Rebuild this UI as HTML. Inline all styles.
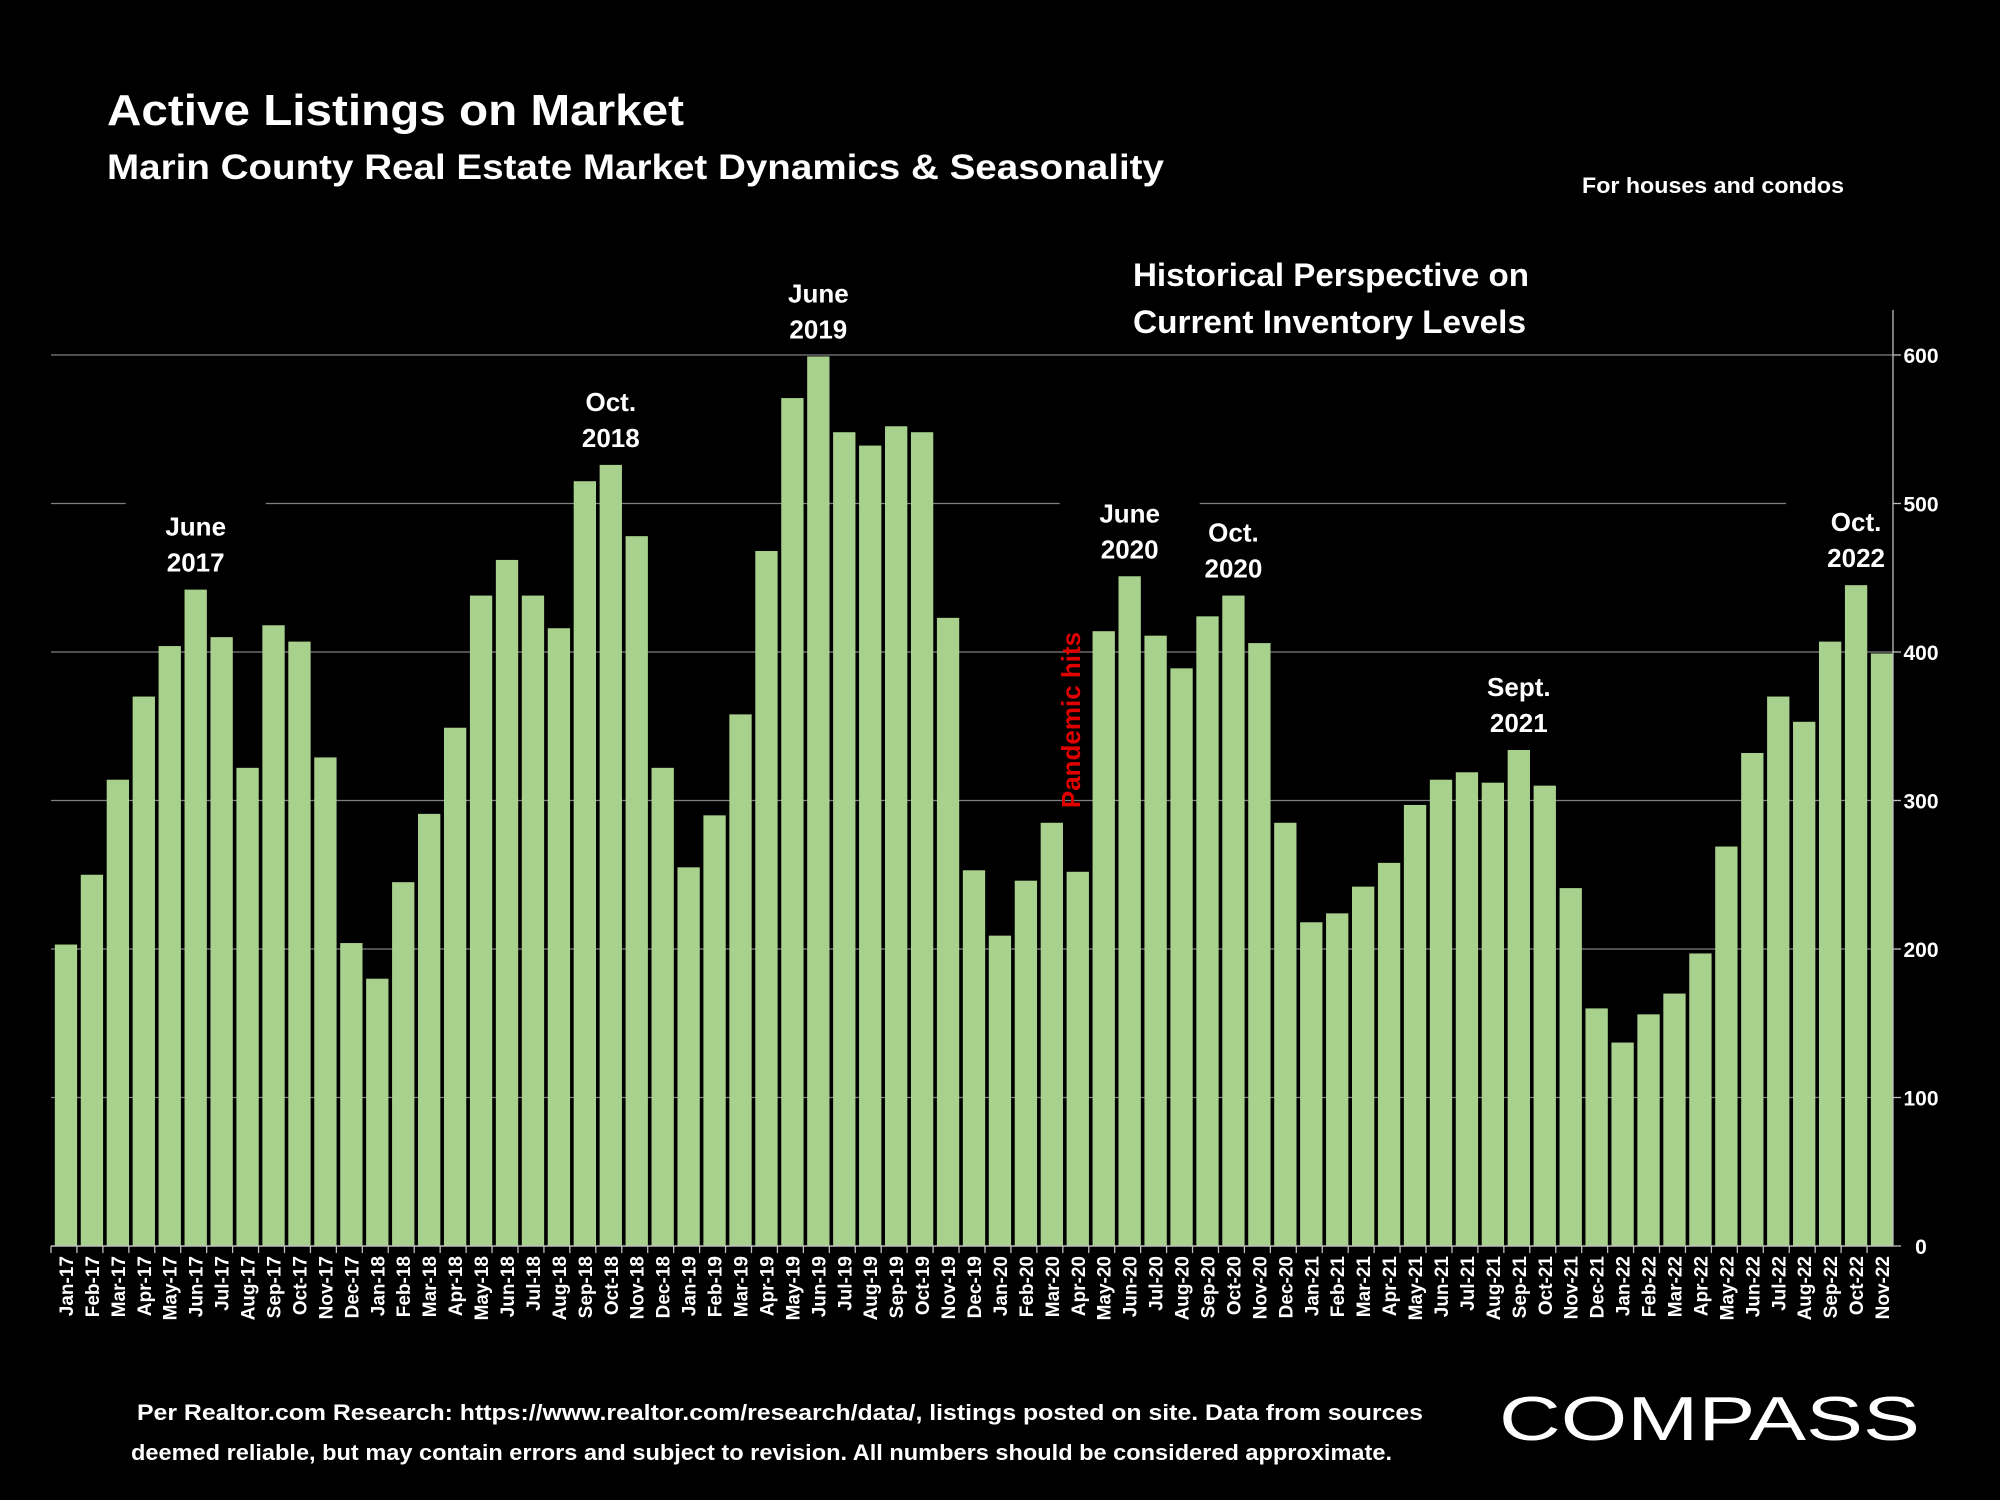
<!DOCTYPE html>
<html><head><meta charset="utf-8"><style>
html,body{margin:0;padding:0;background:#000;}
svg{display:block;font-family:"Liberation Sans",sans-serif;font-weight:bold;}
</style></head><body>
<svg id="chart" width="2000" height="1500" viewBox="0 0 2000 1500" xmlns="http://www.w3.org/2000/svg">
<rect width="2000" height="1500" fill="#000"/>
<text x="107" y="125" fill="#fff" font-size="44" textLength="577" lengthAdjust="spacingAndGlyphs">Active Listings on Market</text>
<text x="107" y="179" fill="#fff" font-size="35" textLength="1057" lengthAdjust="spacingAndGlyphs">Marin County Real Estate Market Dynamics &amp; Seasonality</text>
<text x="1582" y="193" fill="#fff" font-size="22" textLength="262" lengthAdjust="spacingAndGlyphs">For houses and condos</text>
<g id="grid"></g>
<g id="bars"></g>
<g id="annots"></g>
<g id="axes"></g>
<text x="1133" y="286" fill="#fff" font-size="32" textLength="396" lengthAdjust="spacingAndGlyphs">Historical Perspective on</text>
<text x="1133" y="333" fill="#fff" font-size="32" textLength="393" lengthAdjust="spacingAndGlyphs">Current Inventory Levels</text>
<text x="1071" y="720" fill="#e00000" font-size="26" text-anchor="middle" transform="rotate(-90 1071 720)" dy="9">Pandemic hits</text>
<text x="137" y="1420" fill="#fff" font-size="22" textLength="1286" lengthAdjust="spacingAndGlyphs">Per Realtor.com Research:  https://www.realtor.com/research/data/, listings posted on site. Data from sources</text>
<text x="131" y="1460" fill="#fff" font-size="22" textLength="1261" lengthAdjust="spacingAndGlyphs">deemed reliable, but may contain errors and subject to revision. All numbers should be considered approximate.</text>
<text x="1499" y="1440" fill="#fff" font-size="62" font-weight="normal" textLength="421" lengthAdjust="spacingAndGlyphs">COMPASS</text>
</svg>
<script>
const categories = ["Jan-17","Feb-17","Mar-17","Apr-17","May-17","Jun-17","Jul-17","Aug-17","Sep-17","Oct-17","Nov-17","Dec-17","Jan-18","Feb-18","Mar-18","Apr-18","May-18","Jun-18","Jul-18","Aug-18","Sep-18","Oct-18","Nov-18","Dec-18","Jan-19","Feb-19","Mar-19","Apr-19","May-19","Jun-19","Jul-19","Aug-19","Sep-19","Oct-19","Nov-19","Dec-19","Jan-20","Feb-20","Mar-20","Apr-20","May-20","Jun-20","Jul-20","Aug-20","Sep-20","Oct-20","Nov-20","Dec-20","Jan-21","Feb-21","Mar-21","Apr-21","May-21","Jun-21","Jul-21","Aug-21","Sep-21","Oct-21","Nov-21","Dec-21","Jan-22","Feb-22","Mar-22","Apr-22","May-22","Jun-22","Jul-22","Aug-22","Sep-22","Oct-22","Nov-22"];
const listings = [203,250,314,370,404,442,410,322,418,407,329,204,180,245,291,349,438,462,438,416,515,526,478,322,255,290,358,468,571,599,548,539,552,548,423,253,209,246,285,252,414,451,411,389,424,438,406,285,218,224,242,258,297,314,319,312,334,310,241,160,137,156,170,197,269,332,370,353,407,445,399];
const yTicks = [0,100,200,300,400,500,600];
const annotationBars = [5,21,29,41,45,56,69];
const annotationLine1 = ["June","Oct.","June","June","Oct.","Sept.","Oct."];
const annotationLine2 = ["2017","2018","2019","2020","2020","2021","2022"];

const NS="http://www.w3.org/2000/svg";
const X0=51, X1=1893, Y0=1246, Y600=355;
const pitch=(X1-X0)/categories.length;
function xC(i){return X0+pitch*(i+0.5)+2;}
function y(v){return Y0-v*(Y0-Y600)/600;}
function mk(tag,attrs,parent,txt){const e=document.createElementNS(NS,tag);for(const k in attrs)e.setAttribute(k,attrs[k]);if(txt!==undefined)e.textContent=txt;parent.appendChild(e);return e;}
const grid=document.getElementById('grid'),bars=document.getElementById('bars'),ann=document.getElementById('annots'),axes=document.getElementById('axes');

yTicks.forEach(t=>{
  if(t>0){const l=mk('line',{x1:X0,x2:X1,y1:y(t),y2:y(t),stroke:'#7f7f7f','stroke-width':1.3},grid);
  
  }
  const tk=mk('line',{x1:X1,x2:X1+8,y1:y(t),y2:y(t),stroke:'#bfbfbf','stroke-width':1.3},axes);
  
  
  const lb=mk('text',{x:1921,y:y(t)+8,fill:'#fff','font-size':21,'text-anchor':'middle'},axes,String(t));
  
  
});
const ax=mk('line',{x1:X1,x2:X1,y1:310,y2:Y0,stroke:'#bfbfbf','stroke-width':1.3},axes);


const bx=mk('line',{x1:X0,x2:X1,y1:Y0,y2:Y0,stroke:'#bfbfbf','stroke-width':1.5},axes);



const bw=pitch*0.86;
listings.forEach((v,i)=>{
  const r=mk('rect',{x:xC(i)-bw/2,y:y(v),width:bw,height:Y0-y(v),fill:'#a9d18e'},bars);
  
  
  const tx=mk('line',{x1:X0+pitch*i,x2:X0+pitch*i,y1:Y0,y2:Y0+7,stroke:'#bfbfbf','stroke-width':1.3},axes);
  
  
  const cx=xC(i)+7, cy=Y0+10;
  const t=mk('text',{x:cx,y:cy,fill:'#fff','font-size':19,'text-anchor':'end',transform:'rotate(-90 '+cx+' '+cy+')'},axes,categories[i]);
  
  
});

annotationBars.forEach((bi,k)=>{
  const top=y(listings[bi])-18;
  const b2=top, b1=top-36;
  const cx=xC(bi);
  const bg=mk('rect',{x:cx-70,y:b1-34,width:140,height:b2-b1+46,fill:'#000'},grid);
  
  
  const t1=mk('text',{x:cx,y:b1,fill:'#fff','font-size':26,'text-anchor':'middle'},ann,annotationLine1[k]);
  
  
  const t2=mk('text',{x:cx,y:b2,fill:'#fff','font-size':26,'text-anchor':'middle'},ann,annotationLine2[k]);
  
  
});
</script>
</body></html>
